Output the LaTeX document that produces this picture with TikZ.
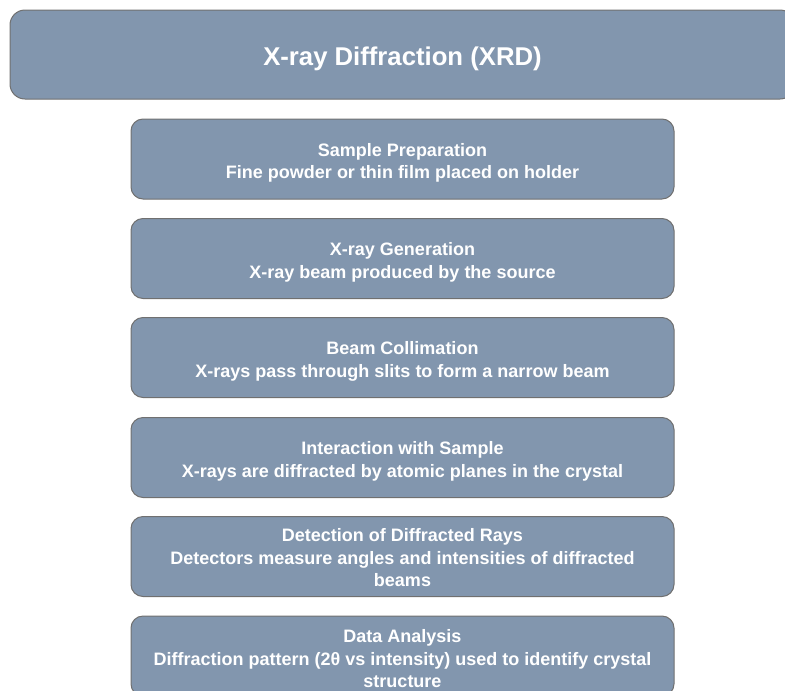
\documentclass[tikz,border=0pt]{standalone}
\usepackage{fontspec}
\setmainfont{Liberation Sans}
\definecolor{boxfill}{RGB}{130,150,174}
\definecolor{boxline}{RGB}{112,112,112}
\begin{document}
\begin{tikzpicture}[x=1pt,y=-1pt,
  stepbox/.style={draw=boxline, line width=1pt, fill=boxfill, rounded corners=12pt,
    minimum width=543pt, minimum height=80pt, inner sep=0pt},
  steptext/.style={text=white, align=center,
    font=\bfseries\fontsize{18}{22.5}\selectfont, inner sep=0pt},
  titlebox/.style={draw=boxline, line width=1pt, fill=boxfill, rounded corners=15pt,
    minimum width=785pt, minimum height=89pt, inner sep=0pt},
  titletext/.style={text=white, align=center,
    font=\bfseries\fontsize{25.7}{30}\selectfont, inner sep=0pt}]
\useasboundingbox (0,0) rectangle (785,691);
\clip (0,0) rectangle (785,691);
\node[titlebox] (title) at (402.5,54.5) {};
\node[titletext, yshift=-4.5pt] (tt) at (title.center) {X-ray Diffraction (XRD)};
\node[stepbox] (s1) at (402.5,159) {};
\node[steptext, yshift=-4pt] (t1) at (s1.center) {Sample Preparation\\Fine powder or thin film placed on holder};
\node[stepbox] (s2) at (402.5,258.5) {};
\node[steptext, yshift=-4pt] (t2) at (s2.center) {X-ray Generation\\X-ray beam produced by the source};
\node[stepbox] (s3) at (402.5,357.5) {};
\node[steptext, yshift=-4pt] (t3) at (s3.center) {Beam Collimation\\X-rays pass through slits to form a narrow beam};
\node[stepbox] (s4) at (402.5,457.5) {};
\node[steptext, yshift=-4pt] (t4) at (s4.center) {Interaction with Sample\\X-rays are diffracted by atomic planes in the crystal};
\node[stepbox] (s5) at (402.5,556.5) {};
\node[steptext, yshift=-1.5pt] (t5) at (s5.center) {Detection of Diffracted Rays\\Detectors measure angles and intensities of diffracted\\beams};
\node[stepbox] (s6) at (402.5,656) {};
\node[steptext, yshift=-3pt] (t6) at (s6.center) {Data Analysis\\Diffraction pattern (2θ vs intensity) used to identify crystal\\structure};
\end{tikzpicture}
\end{document}
